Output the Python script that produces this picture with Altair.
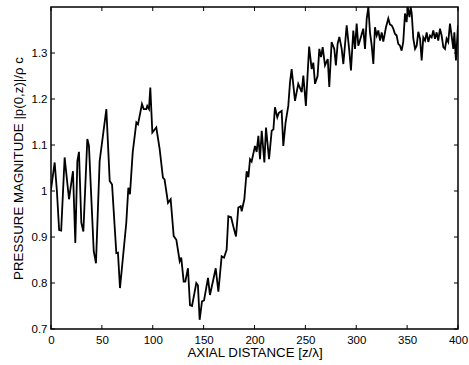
import altair as alt
import pandas as pd

z = [0, 3.6, 5.8, 8, 10, 13.4, 17.7, 19, 21.6, 23.9, 25.9, 27.5, 29.8, 31.8, 35.7, 37.3,
     42, 44.2, 47.8, 54.4, 57.7, 60, 64.2, 65.8, 67.8, 74, 76, 77.6, 80.3, 83.9, 85.5,
     89.4, 91.1, 93.7, 94.6, 96.3, 97.6, 99.6, 103.5, 106.8, 110, 111.6, 115, 117.6,
     120.6, 123.2, 126.5, 128, 130.4, 132, 134.6, 136.6, 138.6, 142.8, 144.4, 146.1,
     148.4, 150.4, 154.3, 156.2, 159.5, 161.9, 164.5, 167.7, 170, 172.6, 174.3, 177,
     179.2, 181.8, 184.1, 186.4, 187.4, 190, 192.3, 194, 195.6, 197.2, 200.5, 202.1,
     203.8, 205.4, 207.1, 209.7, 211.3, 214.3, 216.9, 218.6, 220.1, 222.4, 224, 226.7,
     228.3, 230.6, 233.2, 234.9, 236.5, 239.8, 243, 246.4, 248, 250.5, 253.7, 256.2,
     257.8, 259.5, 262, 263.7, 265.4, 267, 269.3, 272, 273.5, 275.8, 278.4, 280, 281.7,
     283.4, 285.7, 287.3, 290.6, 293.3, 294.8, 297.1, 298.8, 300.4, 302, 303.6, 306.9,
     308.6, 310.3, 311.9, 313.5, 315.2, 316.8, 318.4, 320.1, 321.7, 323.4, 325, 326.6,
     329.2, 331.5, 333.1, 334.8, 336.4, 338, 339.7, 341.3, 343, 344.6, 346.2, 347.9,
     349.5, 350.6, 352.3, 353.5, 354.5, 356.1, 357.8, 359.4, 361, 362.7, 364.3, 365.9,
     367.6, 369.2, 370.8, 372.5, 374.1, 375.7, 377.4, 379, 380.6, 382.3, 383.9, 385.6,
     387.2, 388.8, 390.4, 392.1, 393.7, 395.4, 396.4, 398, 400]
p = [1.003, 1.062, 1.0, 0.915, 0.914, 1.073, 0.982, 1.003, 1.043, 0.887, 1.065, 1.085,
     0.931, 0.912, 1.113, 1.098, 0.869, 0.843, 1.065, 1.178, 1.022, 1.014, 0.865, 0.866,
     0.789, 0.931, 1.007, 0.993, 1.084, 1.149, 1.145, 1.189, 1.178, 1.178, 1.185, 1.178,
     1.225, 1.127, 1.138, 1.091, 1.029, 1.025, 0.974, 0.982, 0.902, 0.894, 0.847, 0.855,
     0.803, 0.803, 0.832, 0.752, 0.75, 0.8, 0.795, 0.72, 0.76, 0.762, 0.811, 0.774,
     0.807, 0.832, 0.781, 0.858, 0.855, 0.872, 0.945, 0.943, 0.923, 0.901, 0.964, 0.967,
     0.956, 0.982, 1.043, 1.03, 1.069, 1.064, 1.098, 1.085, 1.12, 1.069, 1.131, 1.062,
     1.138, 1.069, 1.131, 1.134, 1.182, 1.16, 1.17, 1.174, 1.098, 1.15, 1.185, 1.236,
     1.265, 1.196, 1.233, 1.215, 1.251, 1.185, 1.314, 1.265, 1.279, 1.233, 1.25, 1.309,
     1.291, 1.313, 1.273, 1.287, 1.226, 1.324, 1.309, 1.273, 1.32, 1.335, 1.309, 1.276,
     1.36, 1.302, 1.262, 1.349, 1.309, 1.364, 1.316, 1.327, 1.353, 1.309, 1.375, 1.40,
     1.345, 1.316, 1.276, 1.356, 1.338, 1.349, 1.327, 1.345, 1.325, 1.356, 1.375, 1.362,
     1.36, 1.353, 1.342, 1.338, 1.32, 1.316, 1.305, 1.324, 1.386, 1.367, 1.40, 1.378,
     1.40, 1.386, 1.331, 1.309, 1.316, 1.346, 1.331, 1.284, 1.334, 1.327, 1.345, 1.324,
     1.338, 1.334, 1.349, 1.331, 1.345, 1.327, 1.353, 1.338, 1.313, 1.309, 1.331, 1.324,
     1.364, 1.338, 1.309, 1.345, 1.284, 1.36]

x_ticks = [0, 50, 100, 150, 200, 250, 300, 350, 400]
y_ticks = [0.7, 0.8, 0.9, 1.0, 1.1, 1.2, 1.3]

W, H = 407, 322
FONT = "Liberation Sans"

xs = alt.Scale(domain=[0, 400], nice=False, zero=False)
ys = alt.Scale(domain=[0.7, 1.4], nice=False, zero=False)

x_axis = alt.Axis(
    values=x_ticks, title="AXIAL DISTANCE [z/λ]", domain=False, ticks=False,
    grid=False, labelPadding=5, titlePadding=0, labelFontSize=11.5,
    titleFontSize=13.3, titleFontWeight="normal", labelFont=FONT, titleFont=FONT,
    labelColor="black", titleColor="black", labelFlush=False)
y_axis = alt.Axis(
    values=y_ticks, title="PRESSURE MAGNITUDE |p(0,z)|/ρ c", domain=False,
    ticks=False, grid=False, labelPadding=4, titlePadding=6, labelFontSize=11.5,
    titleFontSize=13.3, titleFontWeight="normal", labelFont=FONT, titleFont=FONT,
    labelColor="black", titleColor="black", labelFlush=False,
    labelExpr="format(datum.value, '~g')")

df = pd.DataFrame({"z": z, "p": p})
dx = pd.DataFrame({"z": x_ticks})
dy = pd.DataFrame({"p": y_ticks})

line = alt.Chart(df).mark_line(color="black", strokeWidth=1.8, clip=True).encode(
    x=alt.X("z:Q", scale=xs, axis=x_axis),
    y=alt.Y("p:Q", scale=ys, axis=y_axis),
)

tl = 4
xb = alt.Chart(dx).mark_rule(color="black", strokeWidth=1).encode(
    x=alt.X("z:Q", scale=xs, axis=x_axis), y=alt.value(H), y2=alt.value(H - tl))
xt = alt.Chart(dx).mark_rule(color="black", strokeWidth=1).encode(
    x=alt.X("z:Q", scale=xs, axis=x_axis), y=alt.value(0), y2=alt.value(tl))
yl = alt.Chart(dy).mark_rule(color="black", strokeWidth=1).encode(
    y=alt.Y("p:Q", scale=ys, axis=y_axis), x=alt.value(0), x2=alt.value(tl))
yr = alt.Chart(dy).mark_rule(color="black", strokeWidth=1).encode(
    y=alt.Y("p:Q", scale=ys, axis=y_axis), x=alt.value(W), x2=alt.value(W - tl))

chart = alt.layer(line, xb, xt, yl, yr).properties(
    width=W, height=H,
    autosize=alt.AutoSizeParams(type="none"),
    padding={"left": 51, "top": 7, "right": 11, "bottom": 36},
    background="white",
).configure_view(stroke="black", strokeWidth=1.5)

chart.save("out.html", embed_options={"renderer": "svg", "actions": False})
